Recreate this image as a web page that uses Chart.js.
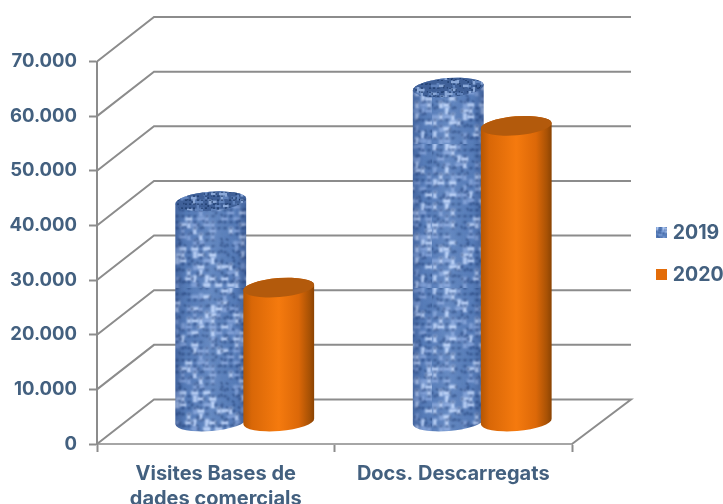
<!DOCTYPE html>
<html><head><meta charset="utf-8">
<style>html,body{margin:0;padding:0;background:#fff}canvas{display:block}</style>
<script src="https://cdn.jsdelivr.net/npm/chart.js@4"></script>
</head><body><canvas id="c" width="723" height="504"></canvas>
<script>
const categories = [["Visites Bases de","dades comercials"],"Docs. Descarregats"];
const series2019 = [40400, 61200];
const series2020 = [24600, 54200];
const seriesNames = ["2019","2020"];
const yTicksStep = 10000, yMax = 70000;

const TEXT = '#43607f', LINE = '#8c8c8c', FONT = 'Inter, "Open Sans", sans-serif';

function hash(i){ let x = (i*2654435761)>>>0; x ^= x>>>13; x = (x*1597334677)>>>0; x ^= x>>>15; x=(x*2246822519)>>>0; x ^= x>>>16; return (x%1000)/1000; }
function weaveTile(cell, n, base, dark, mid, light, blur){
  const c = document.createElement('canvas'); c.width = c.height = cell*n;
  const g = c.getContext('2d');
  g.fillStyle = base; g.fillRect(0,0,c.width,c.height);
  g.filter = 'blur('+blur+'px)';
  for(let j=0;j<n;j++)for(let i=0;i<n;i++){
    const h = hash(i*131+j*977+5), k = hash(i*733+j*171+11), x=i*cell, y=j*cell;
    g.fillStyle = h>.55 ? light : (h>.15 ? mid : base);
    if((i+j)%2) g.fillRect(x-1,y+cell*.15,cell+2,cell*.7);
    else g.fillRect(x+cell*.15,y-1,cell*.7,cell+2);
    g.fillStyle = dark;
    if(k>.42) g.fillRect(x+cell*.72,y+cell*.72,cell*.42,cell*.42);
    if(k>.74) g.fillRect(x-cell*.1,y+cell*.25,cell*.26,cell*.5);
    if(k<.16) g.fillRect(x+cell*.25,y-cell*.1,cell*.5,cell*.26);
  }
  return c;
}
const ctx0 = document.createElement('canvas').getContext('2d');
const blueTile = weaveTile(6,24,'#5a80bd','#1b3a74','#83a3da','#b8d0f8',0.95);
const bluePattern = ctx0.createPattern(blueTile,'repeat');
const capPattern = ctx0.createPattern(weaveTile(4,20,'#3f6098','#183565','#5f82bb','#8aa8d8',0.6),'repeat');
const ORANGE = '#e36c09';

function swatch(fill){
  const c = document.createElement('canvas'); c.width = c.height = 11;
  const g = c.getContext('2d');
  if(typeof fill === 'string'){ g.fillStyle = fill; g.fillRect(0,0,11,11); }
  else { g.drawImage(fill,0,0,22,22,0,0,11,11); }
  return c;
}
const swatches = [swatch(blueTile), swatch(ORANGE)];

const cylinders = {
  id:'cylinders',
  beforeDatasetDraw(){ return false; },
  beforeDatasetsDraw(chart){
    const {ctx, chartArea:a, scales:{y}} = chart;
    ctx.save();
    ctx.strokeStyle = LINE; ctx.lineWidth = 2; ctx.lineJoin='miter';
    for(const t of y.ticks){
      const p = y.getPixelForValue(t.value);
      ctx.beginPath(); ctx.moveTo(a.left,p); ctx.lineTo(a.left+57,p-44.5); ctx.lineTo(a.right+59,p-44.5);
      if(t.value===0){ ctx.lineTo(a.right,p); }
      ctx.stroke();
    }
    ctx.restore();
  },
  afterDatasetsDraw(chart){
    const {ctx} = chart, rot = -0.08, ry = 9.5, dx = 29, dy = -22;
    chart.data.datasets.forEach((ds,di)=>{
      chart.getDatasetMeta(di).data.forEach(el=>{
        const rx = el.width/2+1.5, cx = el.x+dx, yb = el.base+dy, yt = el.y+dy;
        ctx.save();
        ctx.beginPath();
        ctx.ellipse(cx,yb,rx,ry,rot,0,Math.PI);
        ctx.ellipse(cx,yt,rx,ry,rot,Math.PI,Math.PI*2);
        ctx.closePath();
        if(di===0){
          ctx.fillStyle = bluePattern; ctx.fill();
          const g = ctx.createLinearGradient(cx-rx,0,cx+rx,0);
          g.addColorStop(0,'rgba(20,40,90,.3)'); g.addColorStop(.15,'rgba(20,40,90,.05)');
          g.addColorStop(.5,'rgba(255,255,255,.08)'); g.addColorStop(.85,'rgba(20,40,90,.05)');
          g.addColorStop(1,'rgba(20,40,90,.35)');
          ctx.fillStyle = g; ctx.fill();
        } else {
          const g = ctx.createLinearGradient(cx-rx,0,cx+rx,0);
          g.addColorStop(0,'#b45604'); g.addColorStop(.12,'#d96707'); g.addColorStop(.5,'#f57a0e');
          g.addColorStop(.78,'#dc6808'); g.addColorStop(.93,'#a95205'); g.addColorStop(1,'#8a4303');
          ctx.fillStyle = g; ctx.fill();
        }
        ctx.beginPath();
        ctx.ellipse(cx,yt,rx,ry,rot,0,Math.PI*2);
        ctx.fillStyle = di===0 ? capPattern : '#b35a0c';
        ctx.fill();
        ctx.restore();
      });
    });
  },
  beforeInit(chart){
    const leg = chart.legend, fit = leg.fit;
    leg.fit = function(){ fit.call(leg); leg.width = 151; };
  },
  afterLayout(chart){
    const l = chart.legend;
    l.left = 660.5 - 23; l.right = 723; l.top -= 29; l.bottom -= 29;
  }
};

new Chart(document.getElementById('c'),{
  type:'bar',
  data:{labels:categories,datasets:[
    {label:seriesNames[0],data:series2019,backgroundColor:'#5f82bd',borderWidth:0},
    {label:seriesNames[1],data:series2020,backgroundColor:ORANGE,borderWidth:0}
  ]},
  options:{
    responsive:false,animation:false,
    layout:{autoPadding:false,padding:{top:61.5,left:0,right:0,bottom:0}},
    datasets:{bar:{categoryPercentage:.5726,barPercentage:1}},
    plugins:{
      tooltip:{enabled:false},
      legend:{position:'right',labels:{
        usePointStyle:true,pointStyleWidth:3,boxHeight:11,padding:22.5,color:TEXT,
        font:{family:FONT,size:19.5,weight:'bold'},
        generateLabels(chart){
          return Chart.defaults.plugins.legend.labels.generateLabels(chart).map((it,i)=>Object.assign(it,{pointStyle:swatches[i]}));
        }
      }}
    },
    scales:{
      x:{
        afterFit(s){ s.height = 60; },
        border:{color:'#a6a6a6',width:2},
        grid:{drawOnChartArea:false,tickLength:8,tickWidth:2,color:LINE,offset:true},
        ticks:{maxRotation:0,minRotation:0,autoSkip:false,padding:9,color:TEXT,font:{family:FONT,size:20,weight:'bold',lineHeight:1.26}}
      },
      y:{
        min:0,max:yMax,
        afterFit(s){ s.width = 97; },
        border:{color:LINE,width:2},
        grid:{drawOnChartArea:false,tickLength:8,tickWidth:2,color:LINE},
        ticks:{stepSize:yTicksStep,padding:12,color:TEXT,font:{family:FONT,size:18.5,weight:'bold'},
          callback:v=>String(v).replace(/\B(?=(\d{3})+$)/g,'.')}
      }
    }
  },
  plugins:[cylinders]
});
</script></body></html>
